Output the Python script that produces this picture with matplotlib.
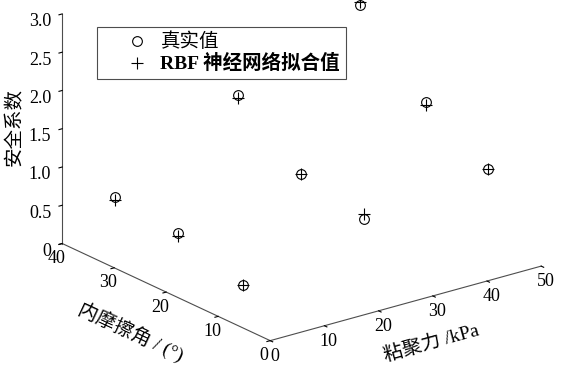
import matplotlib
matplotlib.use('Agg')
import matplotlib.pyplot as plt
from matplotlib.ticker import FixedLocator, FixedFormatter

plt.rcParams['font.family'] = ['Liberation Serif', 'Noto Sans CJK SC']

# 粘聚力 (kPa), 内摩擦角 (deg), 安全系数
cohesion = [5, 5, 20, 5, 20, 40, 25, 45, 45]
friction = [35, 23, 27, 10.5, 15, 24.5, 8, 17, 5]
sf_true = [0.67, 0.58, 1.96, 0.30, 1.31, 2.83, 0.85, 1.70, 1.21]
sf_rbf = [0.63, 0.54, 1.92, 0.30, 1.31, 2.87, 0.92, 1.66, 1.21]

x_ticks = [0, 10, 20, 30, 40, 50]
y_ticks = [0, 10, 20, 30, 40]
z_ticks = [0, 0.5, 1.0, 1.5, 2.0, 2.5, 3.0]
z_labels = ['0', '0.5', '1.0', '1.5', '2.0', '2.5', '3.0']

fig = plt.figure(figsize=(5.62, 3.68), dpi=100)
ax = fig.add_axes([0.028, 0.106, 1, 1], projection='3d', proj_type='ortho')
ax.view_init(elev=21, azim=-127.5)
ax.set_box_aspect((1, 1, 0.72), zoom=1.43)

ax.plot(cohesion, friction, sf_true, linestyle='none', marker='o',
        markersize=7, markerfacecolor='none', markeredgecolor='k',
        markeredgewidth=0.8, label='真实值', clip_on=False)
ax.plot(cohesion, friction, sf_rbf, linestyle='none', marker='+',
        markersize=9, color='k', markeredgewidth=0.8,
        label='RBF 神经网络拟合值', clip_on=False)

ax.set_xlim(0, 50)
ax.set_ylim(0, 40)
ax.set_zlim(0, 3)
ax.xaxis.set_major_locator(FixedLocator(x_ticks))
ax.yaxis.set_major_locator(FixedLocator(y_ticks))
ax.zaxis.set_major_locator(FixedLocator(z_ticks))
ax.zaxis.set_major_formatter(FixedFormatter(z_labels))

ax.grid(False)
for axis in (ax.xaxis, ax.yaxis, ax.zaxis):
    axis.set_pane_color((1, 1, 1, 0))
    axis.pane.set_edgecolor('none')
    axis.line.set_color('0.3')
    axis.line.set_linewidth(0.8)
    axis._axinfo['tick']['inward_factor'] = 0.15
    axis._axinfo['tick']['outward_factor'] = 0.0
    axis._axinfo['tick']['color'] = '0.3'
ax.tick_params(labelsize=13)
ax.tick_params(axis='x', pad=-5)
ax.tick_params(axis='y', pad=-5)
ax.tick_params(axis='z', pad=-4.8)
for tick in ax.zaxis.get_major_ticks():
    tick.label1.set_horizontalalignment('right')

ax.zaxis.set_rotate_label(False)
ax.set_xlabel('粘聚力 /kPa', fontsize=14, labelpad=-4)
ax.set_ylabel('内摩擦角 / (°)', fontsize=14, labelpad=-3)
ax.set_zlabel('安全系数', fontsize=14, rotation=90, labelpad=-7.5)

leg = ax.legend(loc='upper left', bbox_to_anchor=(0.173, 0.927),
                bbox_transform=fig.transFigure, fontsize=14,
                fancybox=False, edgecolor='0.3', framealpha=1,
                borderaxespad=0, borderpad=0.3, handlelength=3.5,
                handletextpad=-0.55, labelspacing=0.15)
leg.get_frame().set_linewidth(0.8)
leg.get_texts()[1].set_fontweight('bold')

fig.savefig('out.png', dpi=100)
